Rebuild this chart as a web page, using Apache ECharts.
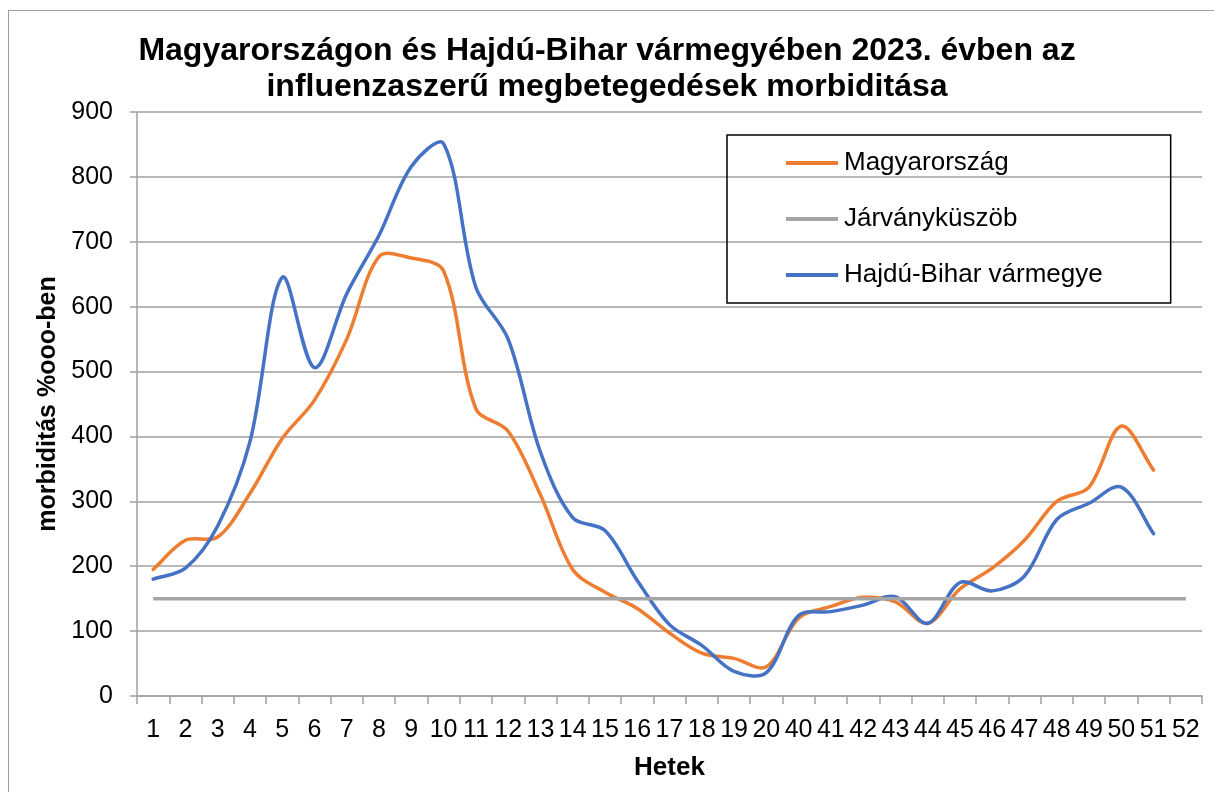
<!DOCTYPE html>
<html>
<head>
<meta charset="utf-8">
<script src="https://cdn.jsdelivr.net/npm/echarts@6/dist/echarts.min.js"></script>
<style>
  html, body { margin: 0; padding: 0; background: #fff; overflow: hidden; }
  #chart { position: absolute; left: 0; top: 0; width: 1214px; height: 792px; }
  #frame { position: absolute; left: 8px; top: 10px; width: 1300px; height: 900px;
           border: 1px solid #a0a0a0; pointer-events: none; }
</style>
</head>
<body>
<div id="chart"></div>
<div id="frame"></div>
<script>
// hetek (x tengely)
const weeks = ['1','2','3','4','5','6','7','8','9','10','11','12','13','14','15','16','17','18','19','20',
  '40','41','42','43','44','45','46','47','48','49','50','51','52'];

// Magyarország
const hungary = [195, 240, 245, 312, 397, 456, 550, 677, 675, 655, 443, 408, 310, 195, 160, 135, 97, 66, 58, 45,
  120, 138, 152, 145, 112, 165, 197, 240, 300, 322, 416, 348, null];

// Járványküszöb
const threshold = [150, 150, 150, 150, 150, 150, 150, 150, 150, 150, 150, 150, 150, 150, 150, 150, 150, 150, 150, 150,
  150, 150, 150, 150, 150, 150, 150, 150, 150, 150, 150, 150, 150];

// Hajdú-Bihar vármegye
const hajduBihar = [180, 197, 262, 392, 645, 506, 620, 710, 816, 851, 630, 550, 376, 275, 255, 178, 110, 78, 38, 36,
  124, 130, 140, 153, 112, 175, 162, 185, 272, 297, 322, 250, null];

const yTicks = { min: 0, max: 900, interval: 100 };

const chart = echarts.init(document.getElementById('chart'));

const font = 'Liberation Sans, Arial, sans-serif';

// Excel-szerű simított vonal (Bezier, szakaszhossz-arányos érintőkkel), a tengelyek skáláján át
function smoothSeries(name, values, color) {
  const data = [];
  values.forEach((v, i) => { if (v != null) data.push([i, v]); });
  return {
    name: name,
    type: 'custom',
    data: data,
    encode: { x: 0, y: 1 },
    itemStyle: { color: color },
    renderItem: function (params, api) {
      if (params.dataIndex !== 0) return null;
      const pts = data.map(d => api.coord(d));
      const n = pts.length;
      const dist = (a, b) => Math.hypot(b[0] - a[0], b[1] - a[1]);
      // érintő-kontrollpontok minden pontnál
      const cpIn = [], cpOut = [];
      for (let i = 0; i < n; i++) {
        const prev = pts[Math.max(i - 1, 0)];
        const next = pts[Math.min(i + 1, n - 1)];
        const p = pts[i];
        const vx = next[0] - prev[0], vy = next[1] - prev[1];
        const d0 = dist(prev, p), d1 = dist(p, next);
        const sum = d0 + d1 || 1;
        const k = 1 / 3;
        cpIn.push([p[0] - vx * k * d0 / sum, p[1] - vy * k * d0 / sum]);
        cpOut.push([p[0] + vx * k * d1 / sum, p[1] + vy * k * d1 / sum]);
      }
      let path = 'M' + pts[0][0] + ' ' + pts[0][1];
      for (let i = 0; i < n - 1; i++) {
        path += ' C' + cpOut[i][0] + ' ' + cpOut[i][1] + ' ' + cpIn[i + 1][0] + ' ' + cpIn[i + 1][1] +
          ' ' + pts[i + 1][0] + ' ' + pts[i + 1][1];
      }
      return {
        type: 'path',
        shape: { pathData: path },
        style: { stroke: color, lineWidth: 3.5, fill: null, lineJoin: 'round', lineCap: 'round' }
      };
    }
  };
}

chart.setOption({
  animation: false,
  textStyle: { fontFamily: font },
  title: {
    text: 'Magyarországon és Hajdú-Bihar vármegyében 2023. évben az\ninfluenzaszerű megbetegedések morbiditása',
    left: 'center',
    top: 33,
    padding: 0,
    textStyle: { fontSize: 32, fontWeight: 'bold', color: '#000', lineHeight: 36, fontFamily: font }
  },
  legend: {
    orient: 'vertical',
    left: 727,
    top: 135,
    padding: [13, 68, 13, 59],
    itemGap: 26,
    itemWidth: 52,
    itemHeight: 4,
    icon: 'rect',
    borderColor: '#000',
    borderWidth: 1.5,
    textStyle: { fontSize: 26, color: '#000', lineHeight: 30, padding: [0, 0, 0, 1], fontFamily: font },
    data: ['Magyarország', 'Járványküszöb', 'Hajdú-Bihar vármegye']
  },
  grid: { left: 137, right: 12, top: 112, bottom: 96 },
  xAxis: {
    type: 'category',
    data: weeks,
    boundaryGap: true,
    name: 'Hetek',
    nameLocation: 'middle',
    nameGap: 59,
    nameTextStyle: { fontSize: 26, fontWeight: 'bold', color: '#000', fontFamily: font },
    axisLine: { lineStyle: { color: '#a0a0a0', width: 1.5 } },
    axisTick: { show: true, length: 8, lineStyle: { color: '#a0a0a0', width: 1.5 } },
    axisLabel: { interval: 0, margin: 22, fontSize: 25, color: '#000', fontFamily: font },
    splitLine: { show: false }
  },
  yAxis: {
    type: 'value',
    min: yTicks.min,
    max: yTicks.max,
    interval: yTicks.interval,
    name: 'morbiditás %ooo-ben',
    nameLocation: 'middle',
    nameGap: 76,
    nameTextStyle: { fontSize: 25, fontWeight: 'bold', color: '#000', fontFamily: font },
    axisLine: { show: true, lineStyle: { color: '#a0a0a0', width: 1.5 } },
    axisTick: { show: true, length: 7, lineStyle: { color: '#a0a0a0', width: 1.5 } },
    axisLabel: { margin: 24, fontSize: 25, color: '#000', fontFamily: font },
    splitLine: { lineStyle: { color: '#a0a0a0', width: 1.5 } }
  },
  series: [
    smoothSeries('Magyarország', hungary, '#ED7D31'),
    {
      name: 'Járványküszöb',
      type: 'line',
      data: threshold,
      symbol: 'none',
      lineStyle: { color: '#A5A5A5', width: 3.5 },
      itemStyle: { color: '#A5A5A5' }
    },
    smoothSeries('Hajdú-Bihar vármegye', hajduBihar, '#4472C4')
  ]
});
</script>
</body>
</html>
